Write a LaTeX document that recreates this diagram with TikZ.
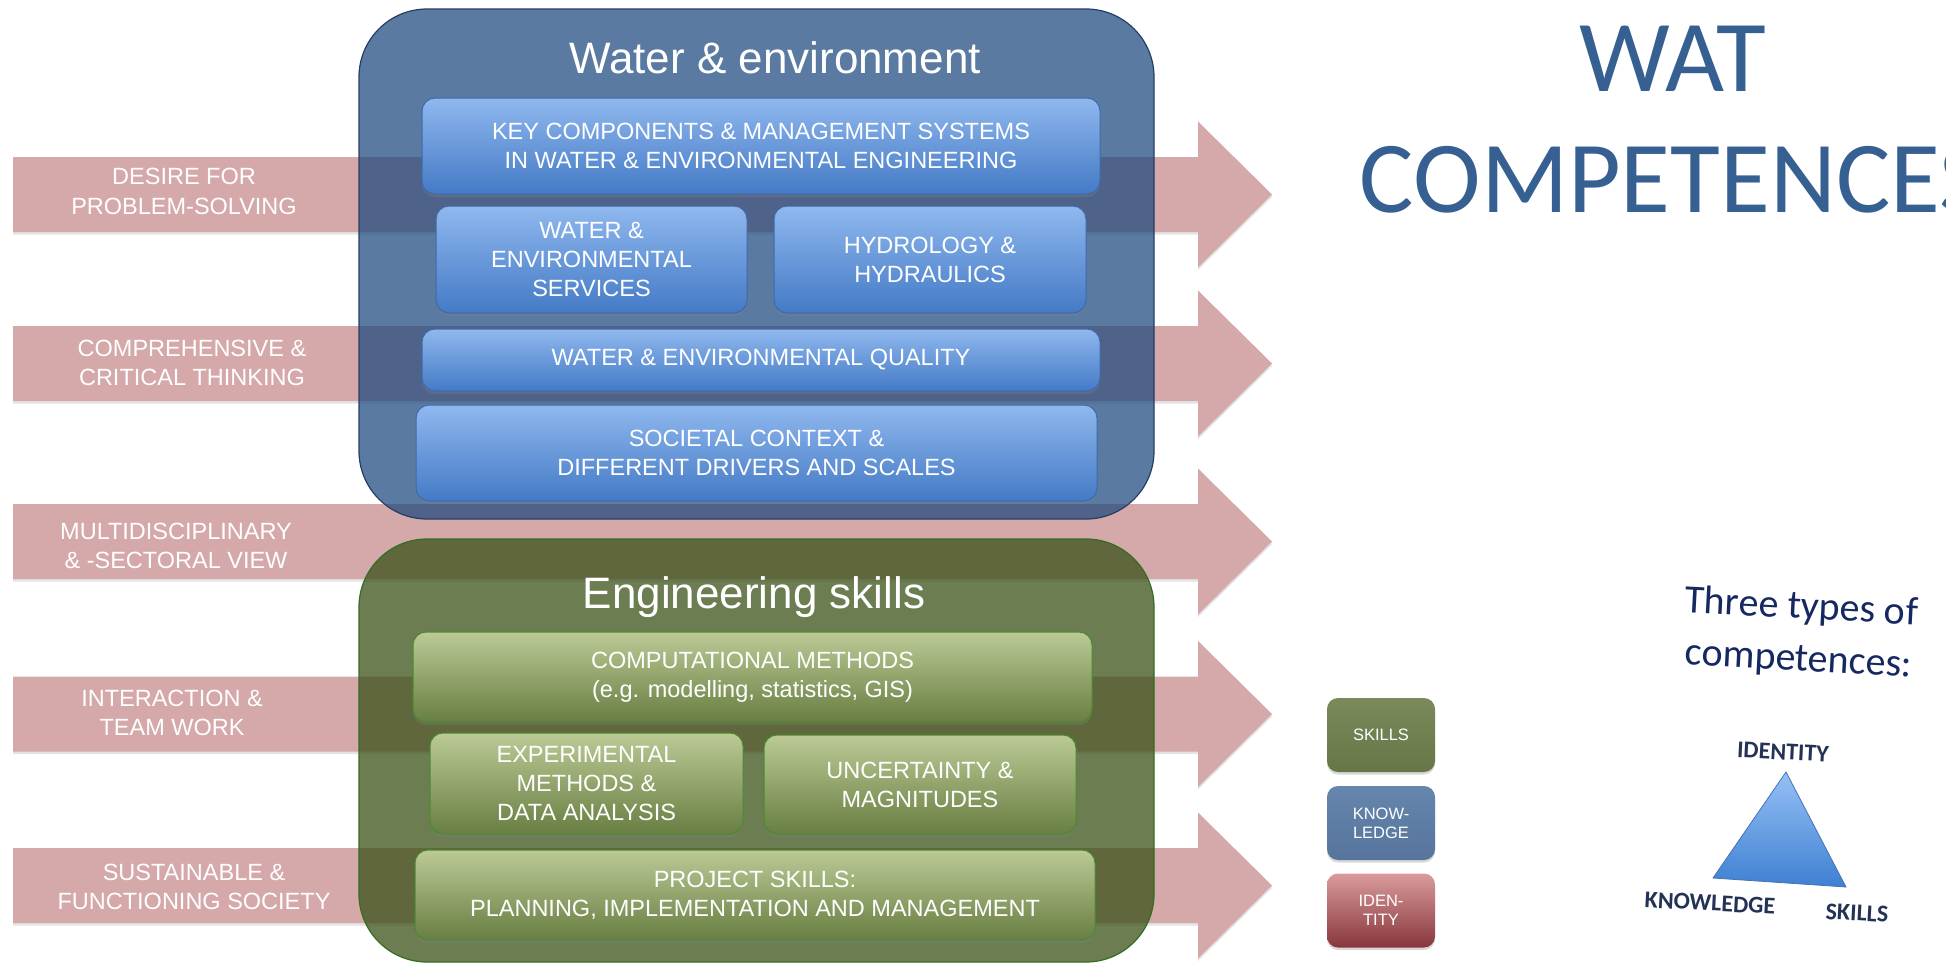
\documentclass[tikz,border=0pt]{standalone}
\usepackage{fontspec}
\setmainfont{Liberation Sans}
\newfontfamily\calib{Carlito}
\usetikzlibrary{shadows}
\definecolor{pinkc}{RGB}{213,168,170}
\definecolor{bluebig}{RGB}{27,72,127}
\definecolor{blueedge}{RGB}{38,62,100}
\definecolor{greenbig}{RGB}{58,82,24}
\definecolor{greenedge}{RGB}{50,110,35}
\definecolor{ibtop}{RGB}{143,184,238}
\definecolor{ibbot}{RGB}{68,122,198}
\definecolor{ibedge}{RGB}{62,105,170}
\definecolor{igtop}{RGB}{188,202,150}
\definecolor{igbot}{RGB}{104,126,66}
\definecolor{igedge}{RGB}{70,140,45}
\definecolor{lgstop}{RGB}{122,138,90}
\definecolor{lgsbot}{RGB}{102,118,72}
\definecolor{lgktop}{RGB}{102,134,174}
\definecolor{lgkbot}{RGB}{86,116,156}
\definecolor{lgitop}{RGB}{218,155,157}
\definecolor{lgibot}{RGB}{135,55,60}
\definecolor{compblue}{RGB}{55,96,146}
\definecolor{navy}{RGB}{22,40,96}
\definecolor{slate}{RGB}{35,50,85}
\definecolor{tritop}{RGB}{150,192,245}
\definecolor{tribot}{RGB}{62,128,210}
\definecolor{triedge}{RGB}{70,115,180}
\tikzset{
  pinkarrow/.style={fill=pinkc, drop shadow={shadow xshift=0pt, shadow yshift=-2.5pt, opacity=0.22}},
  bigbox/.style={rounded corners=68pt, line width=1.2pt, inner sep=0pt},
  bigblue/.style={bigbox, fill=bluebig, fill opacity=0.72, draw=blueedge},
  biggreen/.style={bigbox, fill=greenbig, fill opacity=0.75, draw=greenedge},
  bigtitle/.style={text=white, font=\fontsize{44}{50}\selectfont, inner sep=0pt},
  inbox/.style={rounded corners=13pt, line width=1pt, align=center, text=white, inner sep=0pt,
    font=\fontsize{23.5}{29}\selectfont,
    drop shadow={shadow xshift=0pt, shadow yshift=-3pt, opacity=0.35}},
  inblue/.style={inbox, top color=ibtop, bottom color=ibbot, draw=ibedge},
  ingreen/.style={inbox, top color=igtop, bottom color=igbot, draw=igedge},
  lefttext/.style={text=white, align=center, inner sep=0pt, font=\fontsize{23.5}{29.5}\selectfont},
  legbox/.style={rounded corners=11pt, minimum width=108pt, minimum height=74pt, align=center,
    text=white, inner sep=0pt, font=\fontsize{16.5}{19}\selectfont,
    drop shadow={shadow xshift=0pt, shadow yshift=-2.5pt, opacity=0.3}},
  triangletext/.style={text=slate, font=\calib\bfseries\fontsize{24}{28}\selectfont, inner sep=0pt, rotate=-3},
}
\begin{document}
\begin{tikzpicture}[x=1pt,y=-1pt]
\useasboundingbox (0,0) rectangle (1946,964);
\fill[white] (0,0) rectangle (1946,964);

% pink arrows
\foreach \c in {194.5,363.5,541.5,714,885.5}{
  \fill[pinkarrow] (13,{\c-37.5}) -- (1198,{\c-37.5}) -- (1198,{\c-73}) -- (1272,\c)
     -- (1198,{\c+73}) -- (1198,{\c+37.5}) -- (13,{\c+37.5}) -- cycle;
}

% left labels
\node[lefttext] (l1) at (184,191.5) {DESIRE FOR\\PROBLEM-SOLVING};
\node[lefttext] (l2) at (192,363) {COMPREHENSIVE \&\\CRITICAL THINKING};
\node[lefttext] (l3) at (176,546) {MULTIDISCIPLINARY\\\& -SECTORAL VIEW};
\node[lefttext] (l4) at (172,713) {INTERACTION \&\\TEAM WORK};
\node[lefttext] (l5) at (194,887) {SUSTAINABLE \&\\FUNCTIONING SOCIETY};

% big boxes
\node[bigblue, minimum width=795pt, minimum height=510pt] (water) at (756.5,264) {};
\node[biggreen, minimum width=795pt, minimum height=423pt] (eng) at (756.5,750.5) {};
\node[bigtitle] (wtitle) at (775,58) {Water \& environment};
\node[bigtitle] (etitle) at (754,597.5) {Engineering skills};

% blue inner boxes
\node[inblue, minimum width=678pt, minimum height=96pt] (key) at (761,146)
  {KEY COMPONENTS \& MANAGEMENT SYSTEMS\\IN WATER \& ENVIRONMENTAL ENGINEERING};
\node[inblue, minimum width=311pt, minimum height=107pt] (serv) at (591.5,259.5)
  {WATER \&\\ENVIRONMENTAL\\SERVICES};
\node[inblue, minimum width=312pt, minimum height=107pt] (hydro) at (930,259.5)
  {HYDROLOGY \&\\HYDRAULICS};
\node[inblue, minimum width=678pt, minimum height=62pt] (qual) at (761,360)
  {WATER \& ENVIRONMENTAL QUALITY};
\node[inblue, minimum width=681pt, minimum height=96pt] (soc) at (756.5,453)
  {SOCIETAL CONTEXT \&\\DIFFERENT DRIVERS AND SCALES};

% green inner boxes
\node[ingreen, minimum width=679pt, minimum height=90pt] (comp) at (752.5,677)
  {COMPUTATIONAL METHODS\\(e.g. modelling, statistics, GIS)};
\node[ingreen, minimum width=313pt, minimum height=101pt] (exper) at (586.5,783.5)
  {EXPERIMENTAL\\METHODS \&\\DATA ANALYSIS};
\node[ingreen, minimum width=312pt, minimum height=99pt] (unc) at (920,784.5)
  {UNCERTAINTY \&\\MAGNITUDES};
\node[ingreen, minimum width=680pt, minimum height=90pt] (proj) at (755,895)
  {PROJECT SKILLS:\\PLANNING, IMPLEMENTATION AND MANAGEMENT};

% legend
\node[legbox, top color=lgstop, bottom color=lgsbot] (lskills) at (1381,735) {SKILLS};
\node[legbox, top color=lgktop, bottom color=lgkbot] (lknow) at (1381,823) {KNOW-\\LEDGE};
\node[legbox, top color=lgitop, bottom color=lgibot] (liden) at (1381,910.5) {IDEN-\\TITY};

% right titles
\node[text=compblue, align=center, inner sep=0pt, font=\calib\fontsize{102}{121}\selectfont] (wat) at (1673,120)
  {WAT\\COMPETENCES};
\node[text=navy, align=center, inner sep=0pt, rotate=-3, font=\calib\fontsize{40}{52}\selectfont] (three) at (1800,634)
  {Three types of\\competences:};

% triangle
\coordinate (tA) at (1786,772);
\coordinate (tB) at (1713,878);
\coordinate (tC) at (1846,887);
\draw[top color=tritop, bottom color=tribot, draw=triedge, line width=0.8pt] (tA) -- (tB) -- (tC) -- cycle;
\node[triangletext] (tid) at (1783,752) {IDENTITY};
\node[triangletext] (tkn) at (1710,903) {KNOWLEDGE};
\node[triangletext] (tsk) at (1857,913) {SKILLS};
\end{tikzpicture}
\end{document}
